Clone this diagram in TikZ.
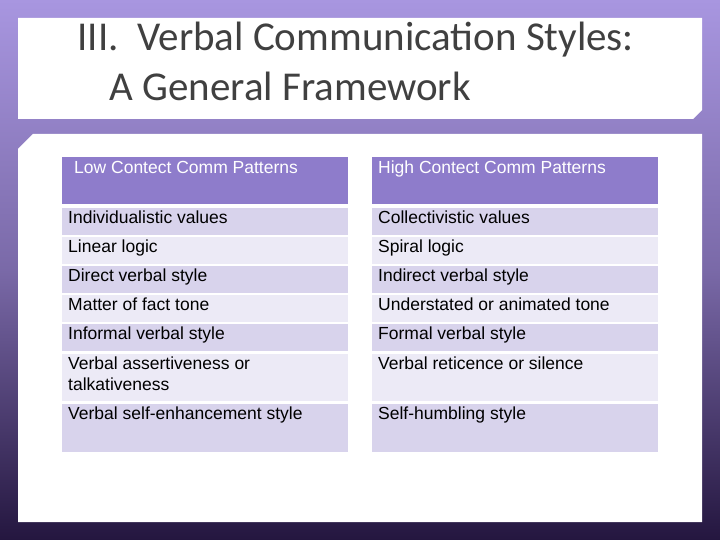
\documentclass[tikz,border=0pt]{standalone}
\usepackage{fontspec}
\setmainfont{Liberation Sans}
\newfontfamily\titlefont{Carlito}
\begin{document}
\begin{tikzpicture}[x=1pt,y=-1pt,
  hdr/.style={fill=hdrc,minimum height=47pt,minimum width=286pt,anchor=north west,inner sep=0pt},
  rowa/.style={fill=rowd,anchor=north west,inner sep=0pt,minimum width=286pt},
  rowb/.style={fill=rowl,anchor=north west,inner sep=0pt,minimum width=286pt},
  txt/.style={anchor=north west,font=\fontsize{17.5}{21}\selectfont,align=left,text=black,inner sep=1pt}]
\definecolor{hdrc}{HTML}{8E7CCB}
\definecolor{rowd}{HTML}{D8D3EC}
\definecolor{rowl}{HTML}{ECEAF6}
\definecolor{bgt}{HTML}{A896E0}
\definecolor{bgb}{HTML}{24163F}
\shade[top color=bgt,bottom color=bgb,middle color=bgt!65!bgb] (0,0) rectangle (720,540);
\useasboundingbox (0,0) rectangle (720,540);
\fill[white] (18,18) -- (702,18) -- (702,110) -- (693,119) -- (18,119) -- cycle;
\fill[white] (33,134) -- (702,134) -- (702,522) -- (18,522) -- (18,149) -- cycle;
\node[anchor=west,text=black!75,font=\titlefont\fontsize{41}{46}\selectfont] (t1) at (74,40) {III.\ \ Verbal Communication Styles:};
\node[anchor=west,text=black!75,font=\titlefont\fontsize{41}{46}\selectfont] (t2) at (106,86) {A General Framework};
% header
\node[hdr] (h1) at (62,157) {};
\node[hdr] (h2) at (372,157) {};
\node[txt,text=white] (h1t) at (73,160) {Low Contect Comm Patterns};
\node[txt,text=white] (h2t) at (377,160) {High Contect Comm Patterns};
% rows
\foreach \y/\h/\s/\a/\b [count=\i] in {
 208/27/rowa/Individualistic values/Collectivistic values,
 237/27/rowb/Linear logic/Spiral logic,
 266/27/rowa/Direct verbal style/Indirect verbal style,
 295/27/rowb/Matter of fact tone/Understated or animated tone,
 324/27/rowa/Informal verbal style/Formal verbal style,
 354/47/rowb/{Verbal assertiveness or\\talkativeness}/Verbal reticence or silence,
 404/48/rowa/Verbal self-enhancement style/Self-humbling style}{
  \node[\s,minimum height=\h pt] (l\i) at (62,\y) {};
  \node[\s,minimum height=\h pt] (r\i) at (372,\y) {};
  \node[txt] (lt\i) at (67,\y+2) {\a};
  \node[txt] (rt\i) at (377,\y+2) {\b};
}
\end{tikzpicture}
\end{document}
